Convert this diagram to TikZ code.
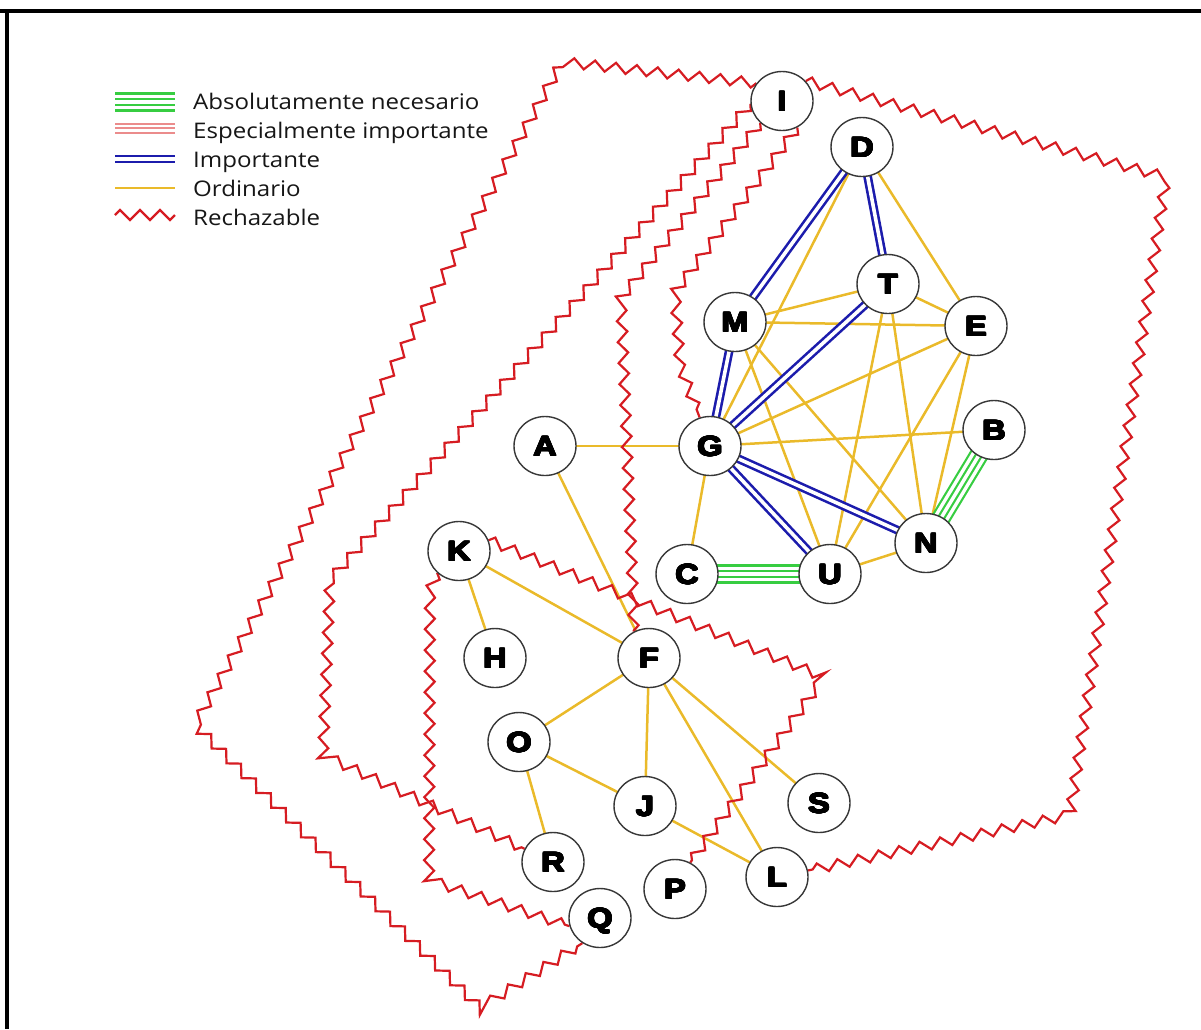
\documentclass[tikz,border=0pt]{standalone}
\usepackage{fontspec}
\usepackage{contour}
\usetikzlibrary{decorations.pathmorphing,shapes.geometric}
\newfontfamily\legendfont[FakeStretch=1.12]{Open Sans}
\newfontfamily\letterfont[FakeStretch=1.16]{Liberation Sans Bold}
\contourlength{0.7pt}
\contournumber{16}
\newcommand\vlabel[1]{\contour{black}{#1}}
\definecolor{ordcol}{RGB}{234,186,42}
\definecolor{impcol}{RGB}{28,28,172}
\definecolor{abscol}{RGB}{55,205,65}
\definecolor{espcol}{RGB}{235,140,140}
\definecolor{rejcol}{RGB}{214,28,34}
\definecolor{ringcol}{RGB}{55,55,55}
\definecolor{txtcol}{RGB}{22,22,22}
\pgfdeclarelayer{bg}
\pgfsetlayers{bg,main}
\begin{document}
\begin{tikzpicture}[x=1pt,y=-1pt,
  vtx/.style={ellipse, draw=ringcol, line width=1.4pt, fill=white,
    minimum width=62pt, minimum height=59pt, inner sep=0pt,
    text height=20pt, text depth=0pt,
    font=\letterfont\fontsize{28}{28}\selectfont},
  ordinario/.style={draw=ordcol, line width=2.5pt},
  importante/.style={draw=impcol, line width=2.6pt, double=white, double distance=3.6pt},
  absoluto/.style={draw=abscol, line width=19.3pt,
    postaction={draw=white, line width=14.9pt},
    postaction={draw=abscol, line width=7.9pt},
    postaction={draw=white, line width=3.5pt}},
  especial/.style={draw=espcol, line width=11pt,
    postaction={draw=white, line width=7pt},
    postaction={draw=espcol, line width=2pt}},
  rechazo/.style={draw=rejcol, line width=2.2pt, decorate,
    decoration={zigzag, segment length=21pt, amplitude=5pt}},
  legtext/.style={anchor=base west, inner sep=0pt, text=txtcol,
    font=\legendfont\fontsize{21.5}{24}\selectfont}]

\useasboundingbox (0,0) rectangle (1201,1029);
% frame
\fill[black] (0,9) rectangle (1201,13);
\fill[black] (5,9) rectangle (9,1029);

% vertices
\node[vtx] (I) at (782,101) {\vlabel{I}};
\node[vtx] (D) at (862,147) {\vlabel{D}};
\node[vtx] (T) at (888,284) {\vlabel{T}};
\node[vtx] (M) at (735,322) {\vlabel{M}};
\node[vtx] (E) at (976,326) {\vlabel{E}};
\node[vtx] (A) at (545,446) {\vlabel{A}};
\node[vtx] (G) at (710,446) {\vlabel{G}};
\node[vtx] (B) at (994,430) {\vlabel{B}};
\node[vtx] (N) at (926,543) {\vlabel{N}};
\node[vtx] (C) at (687,574) {\vlabel{C}};
\node[vtx] (U) at (830,574) {\vlabel{U}};
\node[vtx] (K) at (459,551) {\vlabel{K}};
\node[vtx] (H) at (495,658) {\vlabel{H}};
\node[vtx] (F) at (649,658) {\vlabel{F}};
\node[vtx] (O) at (519,742) {\vlabel{O}};
\node[vtx] (J) at (645,806) {\vlabel{J}};
\node[vtx] (S) at (819,803) {\vlabel{S}};
\node[vtx] (R) at (553,862) {\vlabel{R}};
\node[vtx] (L) at (777,877) {\vlabel{L}};
\node[vtx] (P) at (675,889) {\vlabel{P}};
\node[vtx] (Q) at (600,918) {\vlabel{Q}};

\begin{pgfonlayer}{bg}
% ordinary links
\foreach \a/\b in {D/E,D/G,M/T,M/E,M/N,M/U,T/E,T/U,T/N,E/G,E/U,E/N,G/B,G/C,G/A,U/N,
                   A/F,K/F,K/H,F/O,F/J,F/L,F/S,O/J,O/R,J/L}
  \draw[ordinario] (\a.center) -- (\b.center);
% important links
\foreach \a/\b in {D/M,D/T,M/G,T/G,G/U,G/N}
  \draw[importante] (\a.center) -- (\b.center);
% absolutely necessary links
\draw[absoluto] (C.center) -- (U.center);
\draw[absoluto] (B.center) -- (N.center);

% rejectable links
\draw[rechazo] (I.145) -- (562,62) -- (195,725) -- (480,1008) -- (Q.235);
\draw[rechazo] (I.40) -- (1166,177) -- (1070,815) -- (L);
\draw[rechazo] (I.185) -- (330,580) -- (323,755) -- (R);
\draw[rechazo] (I.225) -- (621,298) -- (633,598) -- (F.120);
\draw[rechazo] (I.300) -- (675,292) -- (680,365) -- (G.110);
\draw[rechazo] (K.225) -- (430,590) -- (429,880) -- (Q.195);
\draw[rechazo] (K.20) -- (824,677) -- (P.60);
\end{pgfonlayer}

% legend
\coordinate (la1) at (115,102); \coordinate (lb1) at (175,102);
\coordinate (la2) at (115,128); \coordinate (lb2) at (175,128);
\coordinate (la3) at (115,159); \coordinate (lb3) at (175,159);
\coordinate (la4) at (115,188); \coordinate (lb4) at (175,188);
\coordinate (la5) at (115,215); \coordinate (lb5) at (175,215);
\draw[absoluto] (la1) -- (lb1);
\draw[especial] (la2) -- (lb2);
\draw[importante] (la3) -- (lb3);
\draw[ordinario] (la4) -- (lb4);
\draw[rechazo, decoration={segment length=20pt}] (la5) -- (lb5);
\node[legtext] (t1) at (193,109) {Absolutamente necesario};
\node[legtext] (t2) at (193,138) {Especialmente importante};
\node[legtext] (t3) at (193,167) {Importante};
\node[legtext] (t4) at (193,196) {Ordinario};
\node[legtext] (t5) at (193,225) {Rechazable};
\end{tikzpicture}
\end{document}
